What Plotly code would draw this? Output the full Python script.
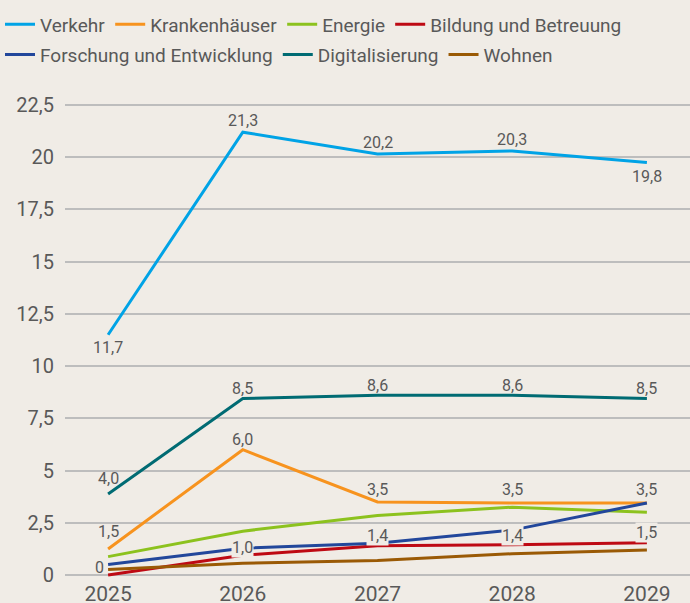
import plotly.graph_objects as go

years = ["2025", "2026", "2027", "2028", "2029"]

series_names = ["Verkehr", "Krankenhäuser", "Energie", "Bildung und Betreuung",
                "Forschung und Entwicklung", "Digitalisierung", "Wohnen"]

verkehr = [11.5, 21.2, 20.15, 20.3, 19.75]
krankenhaeuser = [1.25, 6.0, 3.5, 3.45, 3.45]
energie = [0.88, 2.1, 2.85, 3.25, 3.0]
bildung = [0.0, 0.95, 1.4, 1.45, 1.55]
forschung = [0.5, 1.28, 1.52, 2.15, 3.45]
digitalisierung = [3.88, 8.45, 8.6, 8.6, 8.45]
wohnen = [0.27, 0.56, 0.7, 1.02, 1.2]

verkehr_labels = ["11,7", "21,3", "20,2", "20,3", "19,8"]
krankenhaeuser_labels = ["1,5", "6,0", "3,5", "3,5", "3,5"]
bildung_labels = ["0", "1,0", "1,4", "1,4", "1,5"]
digitalisierung_labels = ["4,0", "8,5", "8,6", "8,6", "8,5"]

y_tickvals = [0, 2.5, 5, 7.5, 10, 12.5, 15, 17.5, 20, 22.5]
y_ticktext = ["0", "2,5", "5", "7,5", "10", "12,5", "15", "17,5", "20", "22,5"]

colors = {
    "Verkehr": "#00A3E6",
    "Krankenhäuser": "#F7931E",
    "Energie": "#8CC21E",
    "Bildung und Betreuung": "#BE0A14",
    "Forschung und Entwicklung": "#22479B",
    "Digitalisierung": "#006B73",
    "Wohnen": "#9A5A05",
}

BG = "#F0ECE6"
TXT = "#595959"
FONT = "Roboto"

data = [verkehr, krankenhaeuser, energie, bildung, forschung, digitalisierung, wohnen]

fig = go.Figure()
for k, (name, vals) in enumerate(zip(series_names, data)):
    fig.add_trace(go.Scatter(
        x=years, y=vals, name=name, mode="lines",
        line=dict(color=colors[name], width=3),
        hoverinfo="skip",
        legend="legend" if k < 4 else "legend2",
    ))

# data labels
label_sets = [
    (verkehr, verkehr_labels, [13, -12, -12, -11, 14], False),
    (digitalisierung, digitalisierung_labels, [-15, -10, -10, -10, -10], False),
    (krankenhaeuser, krankenhaeuser_labels, [-17, -10, -12, -13, -13], False),
    (bildung, bildung_labels, [-8, -8, -10, -9, -10], True),
]
for vals, labels, shifts, knock in label_sets:
    for i, (v, t, s) in enumerate(zip(vals, labels, shifts)):
        xs = 0
        bg = BG if knock else "rgba(0,0,0,0)"
        if knock and i == 0:
            xs = -9
            bg = "rgba(0,0,0,0)"
        fig.add_annotation(
            x=i, y=v, xref="x", yref="y", text=t, showarrow=False,
            xshift=xs, yshift=-s,
            font=dict(family=FONT, size=16, color=TXT),
            bgcolor=bg, borderpad=0,
        )

legend_common = dict(
    orientation="h", xref="container", yref="container",
    xanchor="left", yanchor="top", font=dict(family=FONT, size=19, color=TXT),
    itemwidth=30, bgcolor="rgba(0,0,0,0)", traceorder="normal",
)

fig.update_layout(
    width=690, height=603,
    paper_bgcolor=BG, plot_bgcolor=BG,
    margin=dict(l=65, r=0, t=84, b=24, autoexpand=False),
    font=dict(family=FONT, color=TXT),
    showlegend=True,
    legend=dict(x=-0.006, y=0.991, **legend_common),
    legend2=dict(x=-0.006, y=0.941, **legend_common),
    xaxis=dict(
        type="category", range=[-0.32, 4.32], showgrid=False, zeroline=False,
        showline=False, ticks="", tickfont=dict(family=FONT, size=21, color=TXT),
        fixedrange=True,
    ),
    yaxis=dict(
        range=[-0.19, 23.505], tickvals=y_tickvals, ticktext=y_ticktext,
        showgrid=True, gridcolor="#BDBDBD", gridwidth=1.5, zeroline=False,
        showline=False, ticks="", ticklabelstandoff=10,
        tickfont=dict(family=FONT, size=20, color=TXT),
        fixedrange=True,
    ),
)

fig.write_html(
    "out.html",
    config={"displayModeBar": False},
    post_script="document.body.style.margin='0';document.body.style.background='" + BG + "';",
)
